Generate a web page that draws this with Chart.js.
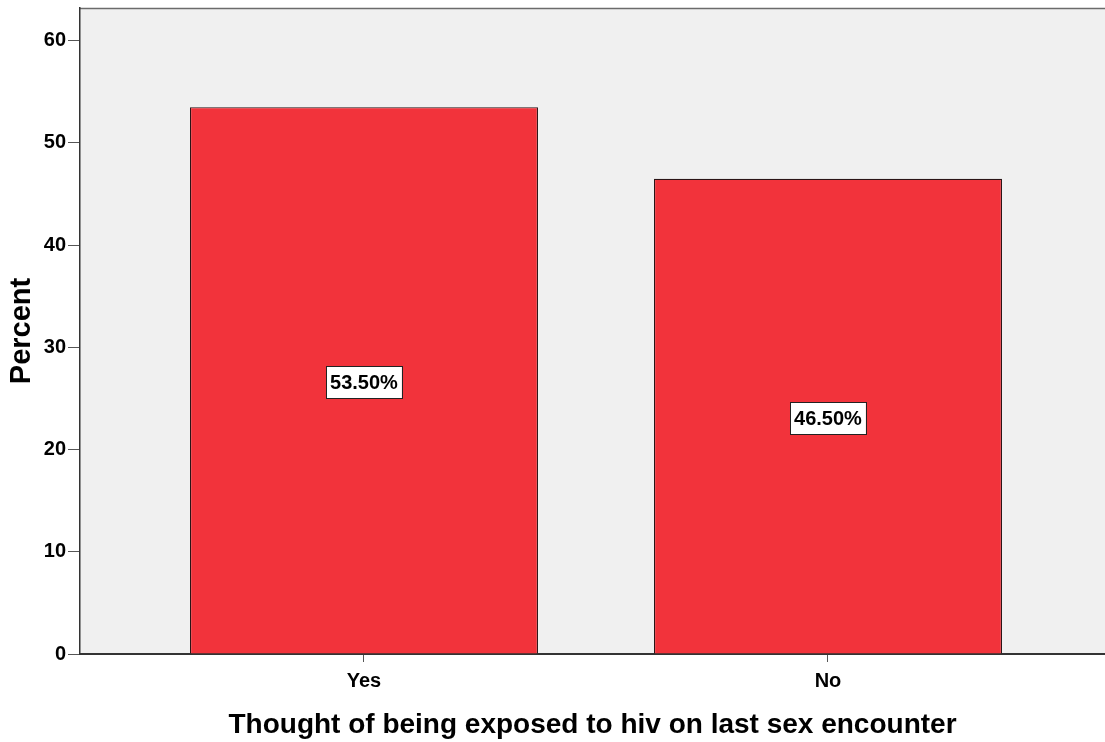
<!DOCTYPE html>
<html>
<head>
<meta charset="utf-8">
<script src="https://cdn.jsdelivr.net/npm/chart.js@4/dist/chart.umd.min.js"></script>
<style>
  html, body { margin: 0; padding: 0; background: #fff; overflow: hidden; }
  #wrap { width: 1105px; height: 742px; position: relative; }
</style>
</head>
<body>
<div id="wrap"><canvas id="grafico" width="1105" height="742"></canvas></div>
<script>
const categories = ['Yes', 'No'];
const percents = [53.5, 46.5];
const yTicks = [0, 10, 20, 30, 40, 50, 60];

document.addEventListener('DOMContentLoaded', function() {
    const ctx = document.getElementById('grafico').getContext('2d');
    const FONT = '"Liberation Sans", Arial, sans-serif';

    // grey plot background, top frame line and the value boxes on the bars
    const plotDecor = {
        id: 'plotDecor',
        beforeDraw(chart) {
            const a = chart.chartArea;
            const c = chart.ctx;
            c.save();
            c.fillStyle = '#f0f0f0';
            c.fillRect(a.left, a.top, a.right - a.left, a.bottom - a.top);
            c.strokeStyle = '#6b6b6b';
            c.lineWidth = 1.5;
            c.beginPath();
            c.moveTo(a.left, a.top + 0.5);
            c.lineTo(a.right, a.top + 0.5);
            c.stroke();
            c.restore();
        },
        afterDatasetsDraw(chart) {
            const c = chart.ctx;
            const meta = chart.getDatasetMeta(0);
            c.save();
            c.font = 'bold 20px ' + FONT;
            c.textAlign = 'center';
            c.textBaseline = 'middle';
            meta.data.forEach((bar, i) => {
                const text = percents[i].toFixed(2) + '%';
                const w = c.measureText(text).width + 8;
                const h = 32;
                const cx = bar.x;
                const cy = (bar.y + bar.base) / 2 + 2;
                c.fillStyle = '#ffffff';
                c.fillRect(cx - w / 2, cy - h / 2, w, h);
                c.strokeStyle = '#222';
                c.lineWidth = 1;
                c.strokeRect(Math.round(cx - w / 2) + 0.5, Math.round(cy - h / 2) + 0.5, Math.round(w), h);
                c.fillStyle = '#000';
                c.fillText(text, cx, cy + 1);
            });
            c.restore();
        }
    };

    new Chart(ctx, {
        type: 'bar',
        data: {
            datasets: [{
                data: percents.map((v, i) => ({ x: i, y: v })),
                backgroundColor: '#f2333b',
                borderColor: '#2a1416',
                borderWidth: 1.2,
                borderSkipped: 'bottom',
                categoryPercentage: 0.75,
                barPercentage: 1
            }]
        },
        options: {
            responsive: false,
            animation: false,
            devicePixelRatio: 1,
            layout: { padding: { top: 8, right: 0, left: 0, bottom: 0 } },
            plugins: {
                legend: { display: false },
                tooltip: { enabled: false }
            },
            scales: {
                x: {
                    type: 'linear',
                    offset: false,
                    min: -0.612,
                    max: 1.597,
                    afterBuildTicks: scale => { scale.ticks = categories.map((c, i) => ({ value: i })); },
                    afterFit: scale => {
                        scale.height = 88;
                        scale.paddingLeft = 0;
                        scale.paddingRight = 0;
                    },
                    ticks: {
                        callback: v => categories[v],
                        color: '#000',
                        font: { family: FONT, size: 20, weight: 'bold' },
                        padding: 7,
                        maxRotation: 0,
                        autoSkip: false
                    },
                    grid: { offset: false, drawOnChartArea: false, tickLength: 8, tickColor: '#555', tickWidth: 1 },
                    border: { color: '#333', width: 2 },
                    title: {
                        display: true,
                        text: 'Thought of being exposed to hiv on last sex encounter',
                        color: '#000',
                        font: { family: FONT, size: 28, weight: 'bold' },
                        padding: { top: 0, bottom: 0 }
                    }
                },
                y: {
                    min: 0,
                    max: 63.2,
                    afterBuildTicks: scale => { scale.ticks = yTicks.map(v => ({ value: v })); },
                    afterFit: scale => {
                        scale.width = 80;
                        scale.paddingTop = 0;
                        scale.paddingBottom = 0;
                    },
                    ticks: {
                        color: '#000',
                        font: { family: FONT, size: 20, weight: 'bold' },
                        padding: 2
                    },
                    grid: { drawOnChartArea: false, tickLength: 12, tickColor: '#555', tickWidth: 1 },
                    border: { color: '#333', width: 1.5 },
                    title: {
                        display: true,
                        text: 'Percent',
                        color: '#000',
                        font: { family: FONT, size: 29, weight: 'bold' },
                        padding: { top: 5, bottom: 0 }
                    }
                }
            }
        },
        plugins: [plotDecor]
    });
});
</script>
</body>
</html>
